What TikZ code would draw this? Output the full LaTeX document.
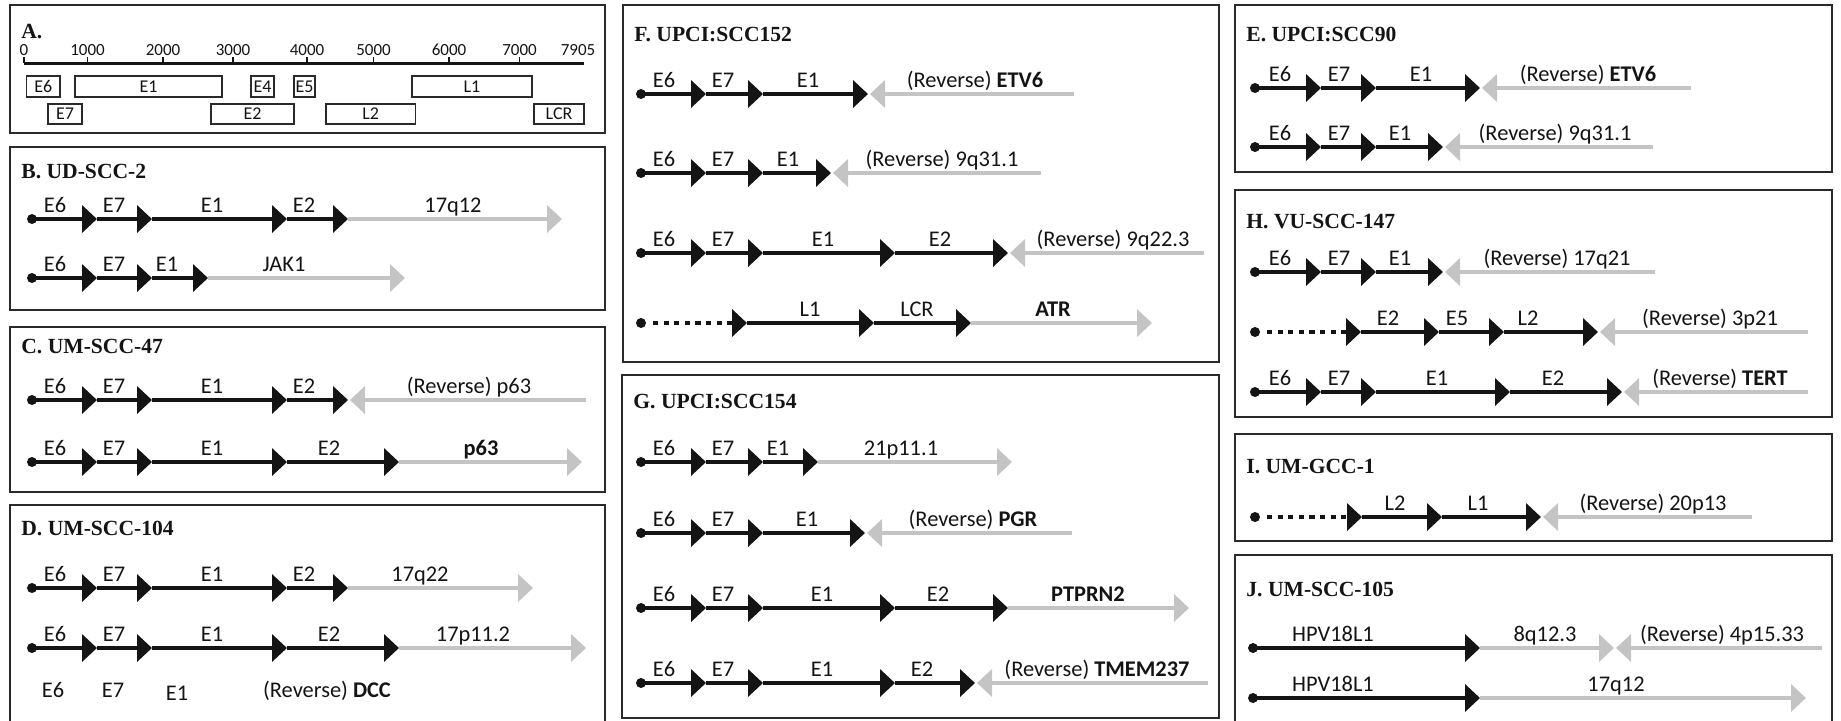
\documentclass[tikz,border=0pt]{standalone}
\usepackage{fontspec}
\setmainfont{Carlito}
\newfontfamily\serifschnitt{Liberation Serif}
\usetikzlibrary{arrows.meta}
\definecolor{ink}{HTML}{141414}
\definecolor{rand}{HTML}{2A2A2A}
\definecolor{wirtgrau}{HTML}{C4C4C4}
\newcommand\titelf{\serifschnitt\bfseries\fontsize{10.8}{13}\selectfont}
\newcommand\markef{\fontsize{11.2}{13}\selectfont}
\newcommand\skalaf{\fontsize{8.5}{10}\selectfont}
\newcommand\genf{\fontsize{9}{10}\selectfont}
\newcommand\feld[7]{\draw[rand,line width=0.8pt] (#2,#3) rectangle (#4,#5);%
  \node[anchor=base west,inner sep=0,font=\titelf,text=ink] (#1) at (#2+11,#6) {#7};}
\newcommand\marke[3]{\node[anchor=base,inner sep=0,font=\markef,text=ink] at (#1,#2-7) {#3};}
\newcommand\zeile[3]{\fill[ink] (#1,#2) circle[radius=5];%
  \foreach \x [remember=\x as \lx (initially #1)] in {#3} {\draw[virus] (\lx,#2) -- (\x,#2);}}
\newcommand\punktzeile[4]{\fill[ink] (#1,#2) circle[radius=5];%
  \draw[luecke] (#1+12,#2) -- (#3,#2);%
  \foreach \x [remember=\x as \lx (initially #3)] in {#4} {\draw[virus] (\lx,#2) -- (\x,#2);}}
\newcommand\wirt[3]{\draw[wirtpfeil] (#1,#2) -- (#3,#2);}

\begin{document}
\begin{tikzpicture}[x=0.5pt,y=-0.5pt]
\useasboundingbox (0,0) rectangle (1841,720);
\tikzset{virus/.style={ink,line width=2pt,-{Triangle[length=7.5pt,width=13.5pt]}},
  luecke/.style={virus,dash pattern=on 2.6pt off 2.7pt},
  wirtpfeil/.style={wirtgrau,line width=2.3pt,-{Triangle[length=7.5pt,width=13.5pt]}},
  genkasten/.style={rand,line width=0.6pt}}

% ---- A: Genomkarte -----------------------------------------------------------
\feld{ta}{10}{5}{605}{133}{38}{A.}
\draw[ink,line width=1.5pt] (24,63) -- (584,63);
\foreach \x/\t in {24/0,87.5/1000,163/2000,233/3000,307/4000,373.5/5000,449/6000,519.5/7000}
  {\draw[ink,line width=0.9pt] (\x,63) -- (\x,57);
   \node[anchor=base,inner sep=0,font=\skalaf,text=ink] at (\x,55) {\t};}
\node[anchor=base,inner sep=0,font=\skalaf,text=ink] at (578,55) {7905};
\foreach \a/\b/\t in {26.5/60/E6,75/222/E1,251/274/E4,294/315/E5,412/532/L1}
  {\draw[genkasten] (\a,76) rectangle (\b,97);
   \node[inner sep=0,font=\genf,text=ink] at ({(\a+\b)/2},86.5) {\t};}
\foreach \a/\b/\t in {48/82/E7,211/294/E2,326/415.5/L2,534/584/LCR}
  {\draw[genkasten] (\a,104) rectangle (\b,124);
   \node[inner sep=0,font=\genf,text=ink] at ({(\a+\b)/2},114) {\t};}

% ---- B -------------------------------------------------------------------------
\feld{tb}{10}{147}{605}{310}{178}{B. UD-SCC-2}
\zeile{32}{219}{97,152,287,348} \wirt{348}{219}{562}
\foreach \x/\t in {55/E6,114/E7,212/E1,304/E2,453/17q12} {\marke{\x}{219}{\t}}
\zeile{32}{278}{97,152,208} \wirt{208}{278}{405}
\foreach \x/\t in {55/E6,114/E7,167/E1,284/JAK1} {\marke{\x}{278}{\t}}

% ---- C -------------------------------------------------------------------------
\feld{tc}{10}{327}{605}{492}{353}{C. UM-SCC-47}
\zeile{32}{400}{97,152,287,348} \wirt{586}{400}{350}
\foreach \x/\t in {55/E6,114/E7,212/E1,304/E2,469/{(Reverse) p63}} {\marke{\x}{400}{\t}}
\zeile{32}{462}{97,152,287,399} \wirt{399}{462}{582}
\foreach \x/\t in {55/E6,114/E7,212/E1,329/E2,481/{\textbf{p63}}} {\marke{\x}{462}{\t}}

% ---- D -------------------------------------------------------------------------
\feld{td}{10}{505}{605}{725}{535}{D. UM-SCC-104}
\zeile{32}{588}{97,152,287,348} \wirt{348}{588}{533}
\foreach \x/\t in {55/E6,114/E7,212/E1,304/E2,420/17q22} {\marke{\x}{588}{\t}}
\zeile{32}{648}{97,152,287,399} \wirt{399}{648}{586}
\foreach \x/\t in {55/E6,114/E7,212/E1,329/E2,473/17p11.2} {\marke{\x}{648}{\t}}
% dritte Zeile nur Beschriftung
\foreach \x/\t in {53/E6,113/E7,327/{(Reverse) \textbf{DCC}}} {\marke{\x}{704}{\t}}
\marke{177}{707}{E1}

% ---- F -------------------------------------------------------------------------
\feld{tf}{623}{5}{1219}{362}{41}{F. UPCI:SCC152}
\zeile{641}{94}{706,763,868} \wirt{1074}{94}{870}
\foreach \x/\t in {664/E6,723/E7,808/E1,975/{(Reverse) \textbf{ETV6}}} {\marke{\x}{94}{\t}}
\zeile{641}{173}{706,763,831} \wirt{1041}{173}{833}
\foreach \x/\t in {664/E6,723/E7,788/E1,942/{(Reverse) 9q31.1}} {\marke{\x}{173}{\t}}
\zeile{641}{253}{706,763,895,1008} \wirt{1204}{253}{1010}
\foreach \x/\t in {664/E6,723/E7,823/E1,940/E2,1113/{(Reverse) 9q22.3}} {\marke{\x}{253}{\t}}
\punktzeile{641}{323}{747}{874,971} \wirt{971}{323}{1152}
\foreach \x/\t in {810/L1,917/LCR,1053/{\textbf{ATR}}} {\marke{\x}{323}{\t}}

% ---- G -------------------------------------------------------------------------
\feld{tg}{622}{375}{1219}{718}{408}{G. UPCI:SCC154}
\zeile{641}{462}{706,763,818} \wirt{818}{462}{1012}
\foreach \x/\t in {664/E6,723/E7,778/E1,901/21p11.1} {\marke{\x}{462}{\t}}
\zeile{641}{533}{706,763,865} \wirt{1072}{533}{867}
\foreach \x/\t in {664/E6,723/E7,807/E1,973/{(Reverse) \textbf{PGR}}} {\marke{\x}{533}{\t}}
\zeile{641}{608}{706,763,895,1008} \wirt{1008}{608}{1189}
\foreach \x/\t in {664/E6,723/E7,822/E1,938/E2,1088/{\textbf{PTPRN2}}} {\marke{\x}{608}{\t}}
\zeile{641}{683}{706,763,895,975} \wirt{1208}{683}{977}
\foreach \x/\t in {664/E6,723/E7,822/E1,922/E2,1097/{(Reverse) \textbf{TMEM237}}} {\marke{\x}{683}{\t}}

% ---- E -------------------------------------------------------------------------
\feld{te}{1235}{5}{1832}{172}{41}{E. UPCI:SCC90}
\zeile{1255}{88}{1321,1376,1480} \wirt{1691}{88}{1482}
\foreach \x/\t in {1280/E6,1339/E7,1421/E1,1588/{(Reverse) \textbf{ETV6}}} {\marke{\x}{88}{\t}}
\zeile{1255}{147}{1321,1376,1443} \wirt{1653}{147}{1445}
\foreach \x/\t in {1280/E6,1339/E7,1400/E1,1555/{(Reverse) 9q31.1}} {\marke{\x}{147}{\t}}

% ---- H -------------------------------------------------------------------------
\feld{th}{1235}{190}{1832}{417}{228}{H. VU-SCC-147}
\zeile{1255}{272}{1321,1376,1443} \wirt{1655}{272}{1445}
\foreach \x/\t in {1280/E6,1339/E7,1400/E1,1557/{(Reverse) 17q21}} {\marke{\x}{272}{\t}}
\punktzeile{1255}{332}{1361}{1439,1504,1598} \wirt{1808}{332}{1600}
\foreach \x/\t in {1388/E2,1457/E5,1528/L2,1710/{(Reverse) 3p21}} {\marke{\x}{332}{\t}}
\zeile{1255}{392}{1321,1376,1510,1622} \wirt{1808}{392}{1624}
\foreach \x/\t in {1280/E6,1339/E7,1437/E1,1553/E2,1720/{(Reverse) \textbf{TERT}}} {\marke{\x}{392}{\t}}

% ---- I -------------------------------------------------------------------------
\feld{ti}{1235}{434}{1832}{541}{473}{I. UM-GCC-1}
\punktzeile{1255}{517}{1362}{1442,1541} \wirt{1752}{517}{1543}
\foreach \x/\t in {1395/L2,1478/L1,1653/{(Reverse) 20p13}} {\marke{\x}{517}{\t}}

% ---- J -------------------------------------------------------------------------
\feld{tj}{1235}{555}{1832}{725}{596}{J. UM-SCC-105}
\zeile{1253}{648}{1480} \wirt{1480}{648}{1614} \wirt{1822}{648}{1616}
\foreach \x/\t in {1333/HPV18L1,1545/8q12.3,1722/{(Reverse) 4p15.33}} {\marke{\x}{648}{\t}}
\zeile{1253}{698}{1480} \wirt{1480}{698}{1806}
\foreach \x/\t in {1333/HPV18L1,1616/17q12} {\marke{\x}{698}{\t}}
\end{tikzpicture}
\end{document}
